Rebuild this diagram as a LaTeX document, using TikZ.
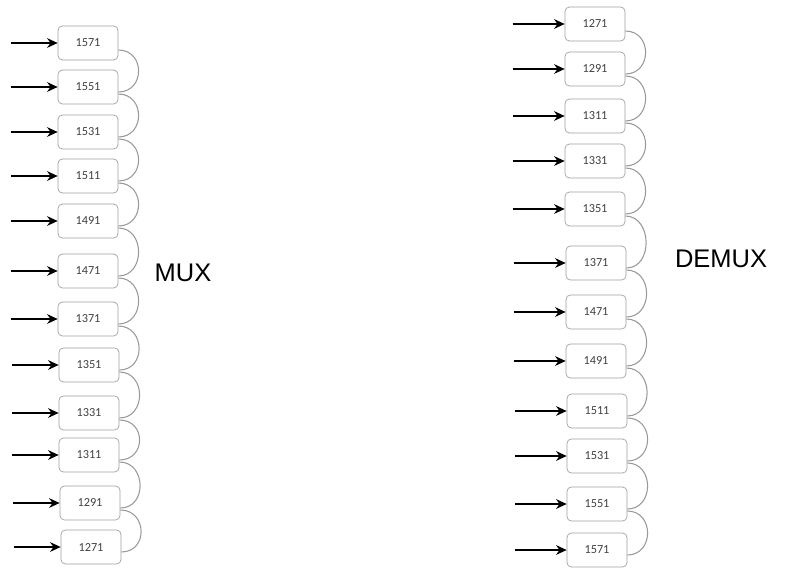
\documentclass[tikz,border=0pt]{standalone}
\usepackage{fontspec}
\setmainfont{Liberation Sans}
\newfontfamily\boxfont{Carlito}
\usetikzlibrary{arrows.meta,calc}
\tikzset{%
	block/.style    = {draw=gray!75, rounded corners=2.5pt, rectangle,
		minimum height = 0.68cm, minimum width = 1.2cm, inner sep=0pt,
		font=\boxfont\fontsize{7}{8}\selectfont, text=black!75}, % Filter
	feed/.style     = {line width=1.2pt, -{Stealth[length=6pt,width=5.5pt]}}, % Input
	link/.style     = {draw=gray!80, line width=0.6pt}, % Loop back
	title/.style    = {font=\fontsize{14.5}{16}\selectfont}
}

\begin{document}
\begin{tikzpicture}[x=0.02cm,y=-0.02cm]
	\useasboundingbox (0,0) rectangle (787,568);
	% MUX side
	\node[block] (mux1)  at (88,43)  {1571};
	\node[block] (mux2)  at (88,87)  {1551};
	\node[block] (mux3)  at (88,132) {1531};
	\node[block] (mux4)  at (88,176) {1511};
	\node[block] (mux5)  at (88,221) {1491};
	\node[block] (mux6)  at (88,271) {1471};
	\node[block] (mux7)  at (88,319) {1371};
	\node[block] (mux8)  at (89,365) {1351};
	\node[block] (mux9)  at (89,413) {1331};
	\node[block] (mux10) at (89,455) {1311};
	\node[block] (mux11) at (90,503) {1291};
	\node[block] (mux12) at (91,547) {1271};
	\node[title] (mux)   at (183,273) {MUX};
	% DEMUX side
	\node[block] (demux1)  at (595,24)  {1271};
	\node[block] (demux2)  at (595,69)  {1291};
	\node[block] (demux3)  at (595,116) {1311};
	\node[block] (demux4)  at (595,161) {1331};
	\node[block] (demux5)  at (595,209) {1351};
	\node[block] (demux6)  at (596,263) {1371};
	\node[block] (demux7)  at (596,312) {1471};
	\node[block] (demux8)  at (596,361) {1491};
	\node[block] (demux9)  at (597,411) {1511};
	\node[block] (demux10) at (597,456) {1531};
	\node[block] (demux11) at (597,504) {1551};
	\node[block] (demux12) at (597,550) {1571};
	\node[title] (demux)   at (721,259) {DEMUX};

	% inputs
	\foreach \i in {1,...,12} {
		\coordinate (inmux\i) at ($(mux\i.west)+(-47,0)$);
		\coordinate (indemux\i) at ($(demux\i.west)+(-52,0)$);
		\draw[feed] (inmux\i) -- (mux\i.west);
		\draw[feed] (indemux\i) -- (demux\i.west);
	}
	% loops between neighbours
	\foreach \i [evaluate=\i as \j using int(\i+1)] in {1,...,11} {
		\draw[link] ($(mux\i.east)+(0,7)$) .. controls +(27,0) and +(27,0) .. ($(mux\j.east)+(0,5)$);
		\draw[link] ($(demux\i.east)+(0,7)$) .. controls +(27,0) and +(27,0) .. ($(demux\j.east)+(0,5)$);
	}
\end{tikzpicture}
\end{document}
